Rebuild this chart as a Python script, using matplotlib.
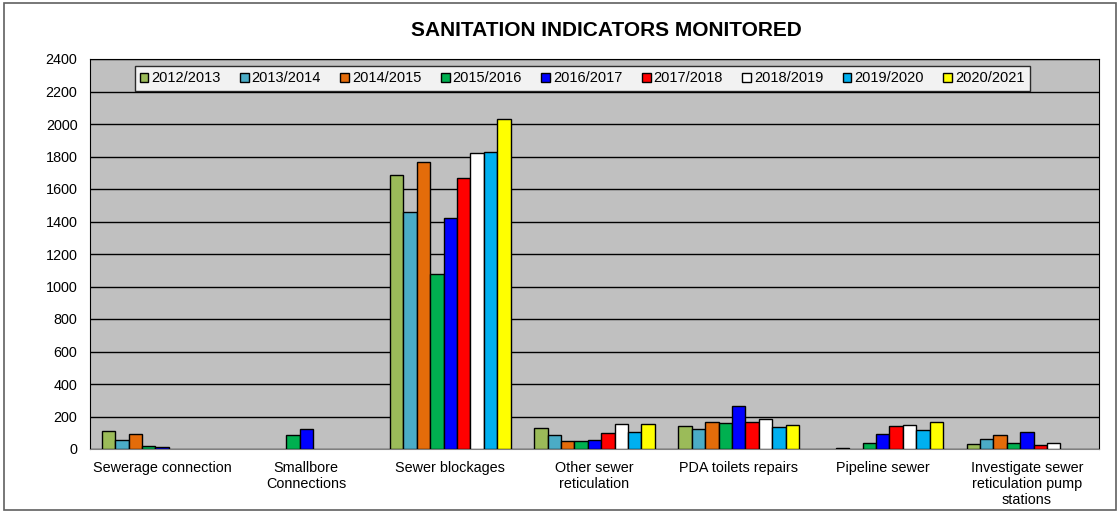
import numpy as np
import matplotlib.pyplot as plt
from matplotlib.patches import Rectangle

plt.rcParams['font.family'] = ['Liberation Sans', 'DejaVu Sans']

categories = ['Sewerage connection', 'Smallbore\nConnections', 'Sewer blockages',
              'Other sewer\nreticulation', 'PDA toilets repairs', 'Pipeline sewer',
              'Investigate sewer\nreticulation pump\nstations']
years = ['2012/2013', '2013/2014', '2014/2015', '2015/2016', '2016/2017',
         '2017/2018', '2018/2019', '2019/2020', '2020/2021']

v2012 = [113, 0, 1686, 127, 139, 0, 31]
v2013 = [53, 0, 1456, 86, 125, 5, 60]
v2014 = [90, 0, 1764, 47, 168, 0, 86]
v2015 = [20, 86, 1079, 47, 160, 35, 37]
v2016 = [14, 121, 1421, 57, 263, 90, 107]
v2017 = [0, 0, 1666, 101, 166, 141, 25]
v2018 = [0, 0, 1821, 152, 187, 150, 39]
v2019 = [0, 0, 1828, 107, 137, 115, 0]
v2020 = [0, 0, 2031, 156, 150, 168, 0]
series = [v2012, v2013, v2014, v2015, v2016, v2017, v2018, v2019, v2020]

colors = ['#9BBB59', '#4BACC6', '#E46C0A', '#00B050', '#0000FF',
          '#FF0000', '#FFFFFF', '#00B0F0', '#FFFF00']

fig = plt.figure(figsize=(11.2, 5.12), dpi=100)
ax = fig.add_axes([90/1120, 63/512, 1009/1120, 390/512])
ax.set_facecolor('#C0C0C0')

x = np.arange(len(categories))
w = 0.093
handles = []
for i, (vals, c, lab) in enumerate(zip(series, colors, years)):
    bars = ax.bar(x + (i - 4) * w, vals, w, color=c, edgecolor='black', linewidth=1,
                  zorder=3)
    # empty bars draw nothing
    for b, v in zip(bars, vals):
        if v == 0:
            b.set_edgecolor('none')
    handles.append(Rectangle((0, 0), 1, 1, facecolor=c, edgecolor='black',
                             linewidth=1, label=lab))

ax.set_ylim(0, 2400)
ax.set_xlim(-0.5, len(categories) - 0.5)
ax.set_yticks(range(0, 2401, 200))
ax.grid(axis='y', color='black', linewidth=1, zorder=0)
ax.set_axisbelow(True)
ax.set_xticks(x)
ax.set_xticklabels(categories, fontsize=10.4)
ax.tick_params(axis='both', length=0, labelsize=10.4)
ax.tick_params(axis='y', pad=9)
ax.tick_params(axis='x', pad=8.5)
for s in ['left', 'top', 'right']:
    ax.spines[s].set_color('black')
ax.spines['bottom'].set_color('#808080')

fig.text(606/1120, 1 - 31/512, 'SANITATION INDICATORS MONITORED', ha='center',
         va='center', fontsize=15, fontweight='bold')

leg = fig.legend(handles=handles, loc='center', bbox_to_anchor=(582/1120, 1 - 78.5/512),
                 ncol=9, fontsize=10.5, frameon=True, fancybox=False, edgecolor='black',
                 handlelength=0.6, handleheight=0.6, handletextpad=0.2,
                 columnspacing=1.33, borderpad=0.35, shadow=False)
leg.get_frame().set_linewidth(1)

fig.patches.append(Rectangle((4/1120, 2/512), 1112/1120, 507/512, transform=fig.transFigure,
                             fill=False, edgecolor='#606060', linewidth=1.2))

plt.savefig('out.png', dpi=100)
